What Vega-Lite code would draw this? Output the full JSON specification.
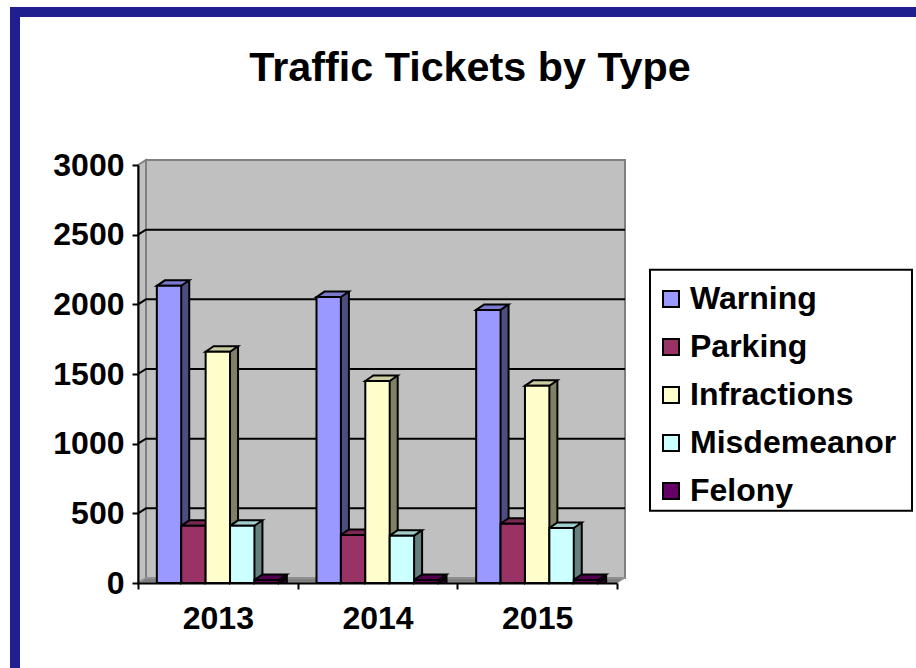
{
"$schema":"https://vega.github.io/schema/vega-lite/v6.json",
"width":479,"height":418,
"autosize":{"type":"none"},
"padding":{"left":138,"top":165,"right":299,"bottom":85},
"background":"white",
"title":{"text":"Traffic Tickets by Type","anchor":"middle","frame":"group","dx":92.5,"offset":-82,"fontSize":41.3,"font":"Liberation Sans","fontWeight":"bold","color":"black"},
"config":{"view":{"stroke":null},"axis":{"grid":false}},
"data":{"values":[
{"year":"2013","type":"Warning","tickets":2133},{"year":"2013","type":"Parking","tickets":410},{"year":"2013","type":"Infractions","tickets":1660},{"year":"2013","type":"Misdemeanor","tickets":410},{"year":"2013","type":"Felony","tickets":22},
{"year":"2014","type":"Warning","tickets":2052},{"year":"2014","type":"Parking","tickets":345},{"year":"2014","type":"Infractions","tickets":1450},{"year":"2014","type":"Misdemeanor","tickets":340},{"year":"2014","type":"Felony","tickets":22},
{"year":"2015","type":"Warning","tickets":1960},{"year":"2015","type":"Parking","tickets":425},{"year":"2015","type":"Infractions","tickets":1415},{"year":"2015","type":"Misdemeanor","tickets":395},{"year":"2015","type":"Felony","tickets":22}
]},
"layer":[
{"data":{"values":[{"tickets":0}]},"mark":{"type":"point","size":4,"opacity":1,"filled":true,"fill":"#1F1F8F","strokeWidth":0,"shape":"M-367.5,-576 L538.5,-576 L538.5,-566 L-357.5,-566 L-357.5,85 L-367.5,85 Z"},"encoding":{"y":{"field":"tickets","type":"quantitative","title":null,"scale":{"domain":[0,3000],"nice":false},"axis":{"orient":"left","zindex":1,"format":"d","values":[0,500,1000,1500,2000,2500,3000],"grid":false,"domainColor":"black","domainWidth":2,"tickColor":"black","tickWidth":2,"tickSize":6,"labelFont":"Liberation Sans","labelFontWeight":"bold","labelFontSize":32,"labelColor":"black","labelPadding":8}}}},
{"data":{"values":[{"tickets":0}]},"mark":{"type":"point","size":4,"opacity":1,"filled":true,"fill":"white","stroke":"black","strokeWidth":2,"shape":"M272.5,-313.3 L534.5,-313.3 L534.5,-72.3 L272.5,-72.3 Z"},"encoding":{"y":{"field":"tickets","type":"quantitative","title":null}}},
{"data":{"values":[{"tickets":0}]},"mark":{"type":"point","size":4,"opacity":1,"filled":true,"fill":"#C0C0C0","stroke":"#808080","strokeWidth":2,"shape":"M-231.5,-5 L247.5,-5 L247.5,-423 L-231.5,-423 Z M-239.5,0 L-231.5,-5 L-231.5,-423 L-239.5,-418 Z"},"encoding":{"y":{"field":"tickets","type":"quantitative","title":null}}},
{"data":{"values":[{"tickets":0}]},"mark":{"type":"point","size":4,"opacity":1,"filled":true,"fill":"#808080","stroke":"#A0A0A0","strokeWidth":1,"shape":"M-239.5,0 L-231.5,-5 L247.5,-5 L239.5,0 Z"},"encoding":{"y":{"field":"tickets","type":"quantitative","title":null}}},
{"data":{"values":[{"tickets":500},{"tickets":1000},{"tickets":1500},{"tickets":2000},{"tickets":2500}]},"mark":{"type":"point","size":4,"opacity":1,"filled":false,"stroke":"black","strokeWidth":2,"shape":"M-239.5,0 L-231.5,-5 L247.5,-5"},"encoding":{"y":{"field":"tickets","type":"quantitative","title":null}}},
{
"encoding":{
"x":{"field":"year","type":"nominal","title":null,"scale":{"paddingInner":0,"paddingOuter":0},"axis":{"orient":"bottom","zindex":1,"tickBand":"extent","domainColor":"black","domainWidth":2,"tickColor":"black","tickWidth":2,"tickSize":6,"labelAngle":0,"labelFont":"Liberation Sans","labelFontWeight":"bold","labelFontSize":32,"labelColor":"black","labelPadding":14}},
"xOffset":{"field":"type","type":"nominal","scale":{"type":"band","domain":["Warning","Parking","Infractions","Misdemeanor","Felony"],"paddingOuter":0.772}},
"y":{"field":"tickets","type":"quantitative","title":null}
},
"layer":[
{"mark":{"type":"bar","yOffset":-5.5},"encoding":{"xOffset":{"field":"type","type":"nominal","scale":{"type":"band","domain":["Warning","Parking","Infractions","Misdemeanor","Felony"],"paddingOuter":0.772,"range":[8,167.67]}},"y":{"field":"tickets","type":"quantitative","stack":null,"title":null},"y2":{"datum":0},"color":{"field":"type","type":"nominal","legend":null,"scale":{"domain":["Warning","Parking","Infractions","Misdemeanor","Felony"],"range":["#4D4D80","#4D1A33","#808066","#668080","#330033"]}}}},
{"mark":{"type":"point","size":4,"opacity":1,"filled":true,"stroke":"black","strokeWidth":2,"shape":"M12.2,-5.5 L12.2,0 L20.2,-5.5"},"encoding":{"y":{"datum":0},"color":{"field":"type","type":"nominal","legend":null,"scale":{"domain":["Warning","Parking","Infractions","Misdemeanor","Felony"],"range":["#4D4D80","#4D1A33","#808066","#668080","#330033"]}}}},
{"mark":{"type":"rule","color":"black","strokeWidth":2,"yOffset":-5.5},"encoding":{"xOffset":{"field":"type","type":"nominal","scale":{"type":"band","domain":["Warning","Parking","Infractions","Misdemeanor","Felony"],"paddingOuter":0.772,"range":[20.2,179.87]}},"y":{"field":"tickets","type":"quantitative","title":null},"y2":{"datum":0}}},
{"mark":{"type":"point","size":4,"opacity":1,"filled":true,"stroke":"black","strokeWidth":2,"shape":"M-12.2,0 L-4.2,-5.5 L20.2,-5.5 L12.2,0 Z"},"encoding":{"color":{"field":"type","type":"nominal","legend":null,"scale":{"domain":["Warning","Parking","Infractions","Misdemeanor","Felony"],"range":["#7A7ACC","#7A2952","#CCCCA3","#A3CCCC","#520052"]}}}},
{"mark":{"type":"bar","stroke":"black","strokeWidth":2},"encoding":{"y":{"field":"tickets","type":"quantitative","stack":null,"title":null},"y2":{"datum":0},"color":{"field":"type","type":"nominal","scale":{"domain":["Warning","Parking","Infractions","Misdemeanor","Felony"],"range":["#9999FF","#993366","#FFFFCC","#CCFFFF","#660066"]},"legend":{"title":null,"orient":"none","legendX":517,"legendY":118,"padding":0,"symbolType":"square","symbolSize":256,"symbolStrokeColor":"black","symbolStrokeWidth":2,"labelFont":"Liberation Sans","labelFontWeight":"bold","labelFontSize":32,"labelColor":"black","labelOffset":3,"rowPadding":16,"labelLimit":300}}}}
],
"resolve":{"scale":{"color":"independent","xOffset":"independent"}}
}
]
}
